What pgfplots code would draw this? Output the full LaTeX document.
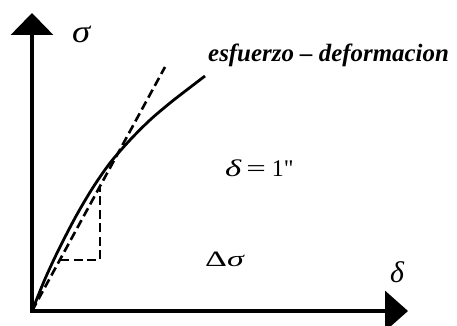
\documentclass[border=0pt]{standalone}
\usepackage{fontspec}
\setmainfont{Liberation Serif}
\newfontfamily\plainfont{Liberation Serif}
\usepackage{pgfplots}
\pgfplotsset{compat=1.18}
\usetikzlibrary{arrows.meta}
\begin{document}
\begin{tikzpicture}
\begin{axis}[
  scale only axis, width=457bp, height=326bp,
  xmin=-32, xmax=425, ymin=-15, ymax=311,
  hide axis, clip=false,
]
% axes with arrows
\addplot[black, line width=3.4bp, -{Triangle[width=42bp,length=22bp]}] coordinates {(0,-1.7) (0,298)};
\addplot[black, line width=3.4bp, -{Triangle[width=40bp,length=23bp]}] coordinates {(-1.7,0) (376,0)};
% stress-strain curve
\addplot[black, line width=2.8bp, smooth] coordinates {
(0,0) (13,32) (26,60) (43,93) (60,122) (78,148) (98,171) (118,191) (138,208) (156,222) (173,235)};
% secant line
\addplot[black, line width=2.6bp, dash pattern=on 9bp off 4.5bp] coordinates {(0,0) (133,244)};
% slope triangle
\addplot[black, line width=2.6bp, dash pattern=on 9bp off 4.5bp] coordinates {(28,51) (68,51) (68,124)};
% labels
\node[anchor=base west, inner sep=0pt, font=\fontsize{25}{25}\selectfont\bfseries\itshape] at (axis cs:176,249) {esfuerzo – deformacion};
\node[anchor=base west, inner sep=0pt, font=\fontsize{24}{24}\selectfont] at (axis cs:193,134)
  {\scalebox{1.45}[1]{\itshape δ}\hspace{5bp}\scalebox{1.45}[1]{=}\hspace{6bp}1{\plainfont "}};
\node[anchor=base west, inner sep=0pt, font=\fontsize{22}{22}\selectfont] at (axis cs:173,44) {\scalebox{1.55}[1]{Δ{\itshape σ}}};
\node[anchor=base west, inner sep=0pt, font=\fontsize{32}{32}\selectfont\itshape] at (axis cs:40,268) {\scalebox{1.15}[1]{σ}};
\node[anchor=base west, inner sep=0pt, font=\fontsize{30}{30}\selectfont\itshape] at (axis cs:358,28) {δ};
\end{axis}
\pgfresetboundingbox
\useasboundingbox (current axis.south west) rectangle (current axis.north east);
\end{tikzpicture}
\end{document}
